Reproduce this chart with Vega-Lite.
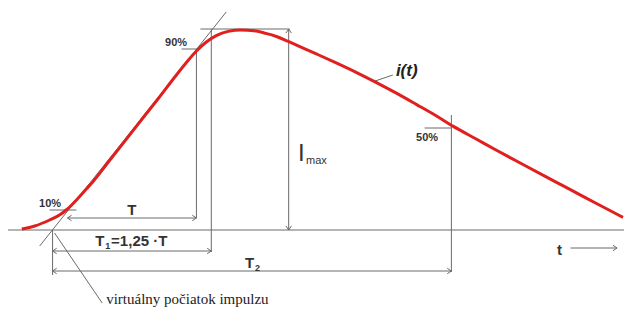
{
  "$schema": "https://vega.github.io/schema/vega-lite/v6.json",
  "autosize": {"type": "fit", "contains": "padding"},
  "width": 629,
  "height": 309,
  "padding": 0,
  "background": "white",
  "config": {"view": {"stroke": null}},
  "datasets": {
    "curve": [
      {"t": 22, "i": 0.5}, {"t": 35, "i": 2}, {"t": 50, "i": 5}, {"t": 60, "i": 7.5},
      {"t": 68, "i": 10.5}, {"t": 78, "i": 15.5}, {"t": 87, "i": 20.5}, {"t": 93, "i": 23.8},
      {"t": 110, "i": 34.5}, {"t": 127, "i": 45.2}, {"t": 145, "i": 56.6}, {"t": 160, "i": 66},
      {"t": 177, "i": 77}, {"t": 190, "i": 85}, {"t": 198, "i": 89.5}, {"t": 208, "i": 94},
      {"t": 218, "i": 97.2}, {"t": 230, "i": 99.3}, {"t": 243, "i": 100}, {"t": 256, "i": 99.6},
      {"t": 268, "i": 98.3}, {"t": 280, "i": 96.5}, {"t": 290, "i": 94.4}, {"t": 300, "i": 92.2},
      {"t": 320, "i": 87.8}, {"t": 340, "i": 83.3}, {"t": 360, "i": 78.6}, {"t": 380, "i": 73.6},
      {"t": 400, "i": 68.3}, {"t": 420, "i": 62.7}, {"t": 440, "i": 57}, {"t": 457, "i": 51.8},
      {"t": 480, "i": 45.5}, {"t": 500, "i": 40}, {"t": 530, "i": 32}, {"t": 560, "i": 24.1},
      {"t": 590, "i": 16.2}, {"t": 610, "i": 11}, {"t": 628, "i": 6.3}
    ],
    "guides": [
      {"seg": "base", "o": 1, "t": 8, "i": 0}, {"seg": "base", "o": 2, "t": 629, "i": 0},
      {"seg": "tangent", "o": 1, "t": 40, "i": -8}, {"seg": "tangent", "o": 2, "t": 228, "i": 109},
      {"seg": "v53", "o": 1, "t": 53, "i": 0}, {"seg": "v53", "o": 2, "t": 53, "i": -22.5},
      {"seg": "v198", "o": 1, "t": 198, "i": 90.5}, {"seg": "v198", "o": 2, "t": 198, "i": 6},
      {"seg": "v213", "o": 1, "t": 213, "i": 100.5}, {"seg": "v213", "o": 2, "t": 213, "i": -11},
      {"seg": "v455", "o": 1, "t": 455, "i": 57.5}, {"seg": "v455", "o": 2, "t": 455, "i": -21},
      {"seg": "imax", "o": 1, "t": 291, "i": 100.5}, {"seg": "imax", "o": 2, "t": 291, "i": 0},
      {"seg": "top", "o": 1, "t": 202, "i": 100.5}, {"seg": "top", "o": 2, "t": 292, "i": 100.5},
      {"seg": "T", "o": 1, "t": 68, "i": 6}, {"seg": "T", "o": 2, "t": 198, "i": 6},
      {"seg": "T1", "o": 1, "t": 53, "i": -10.5}, {"seg": "T1", "o": 2, "t": 213, "i": -10.5},
      {"seg": "T2", "o": 1, "t": 53, "i": -20.5}, {"seg": "T2", "o": 2, "t": 455, "i": -20.5},
      {"seg": "p10", "o": 1, "t": 50, "i": 10}, {"seg": "p10", "o": 2, "t": 77, "i": 10},
      {"seg": "p90", "o": 1, "t": 183, "i": 90.5}, {"seg": "p90", "o": 2, "t": 200, "i": 90.5},
      {"seg": "p50", "o": 1, "t": 428, "i": 51}, {"seg": "p50", "o": 2, "t": 455, "i": 51},
      {"seg": "lead1", "o": 1, "t": 55, "i": -1.5}, {"seg": "lead1", "o": 2, "t": 103, "i": -36.5},
      {"seg": "lead2", "o": 1, "t": 377, "i": 74.3}, {"seg": "lead2", "o": 2, "t": 396, "i": 77.5},
      {"seg": "tarrow", "o": 1, "t": 575, "i": -9}, {"seg": "tarrow", "o": 2, "t": 622, "i": -9}
    ],
    "heads": [
      {"dir": "left", "t": 68, "i": 6}, {"dir": "right", "t": 198, "i": 6},
      {"dir": "left", "t": 53, "i": -10.5}, {"dir": "right", "t": 213, "i": -10.5},
      {"dir": "left", "t": 53, "i": -20.5}, {"dir": "right", "t": 455, "i": -20.5},
      {"dir": "up", "t": 291, "i": 100.5}, {"dir": "down", "t": 291, "i": 0},
      {"dir": "right", "t": 622, "i": -9}
    ],
    "labels": [
      {"kind": "pct", "t": 50.5, "i": 13, "text": "10%"},
      {"kind": "pct", "t": 177.5, "i": 93.5, "text": "90%"},
      {"kind": "pct", "t": 430.5, "i": 46, "text": "50%"},
      {"kind": "dim", "t": 133, "i": 10, "text": "T"},
      {"kind": "dim", "t": 564, "i": -10, "text": "t"},
      {"kind": "dimL", "t": 96, "i": -5.5, "text": "T"},
      {"kind": "sub", "t": 106, "i": -8, "text": "1"},
      {"kind": "dimL", "t": 112, "i": -5.5, "text": "=1,25 ·T"},
      {"kind": "dimL", "t": 247, "i": -16.5, "text": "T"},
      {"kind": "sub", "t": 257, "i": -19.2, "text": "2"}
    ]
  },
  "encoding": {
    "x": {"field": "t", "type": "quantitative", "scale": {"domain": [0, 629], "nice": false, "zero": false}, "axis": null},
    "y": {"field": "i", "type": "quantitative", "scale": {"domain": [-39.5, 115], "nice": false, "zero": false}, "axis": null}
  },
  "layer": [
    {
      "data": {"name": "guides"},
      "mark": {"type": "line", "color": "#6a6a6a", "strokeWidth": 1},
      "encoding": {"detail": {"field": "seg"}, "order": {"field": "o", "type": "quantitative"}}
    },
    {
      "data": {"name": "heads"},
      "mark": {"type": "point", "filled": false, "color": "#6a6a6a", "strokeWidth": 1, "size": 30, "opacity": 1},
      "encoding": {
        "shape": {"field": "dir", "type": "nominal", "legend": null,
          "scale": {"domain": ["left", "right", "up", "down"],
            "range": ["M1.5,-1L0,0L1.5,1", "M-1.5,-1L0,0L-1.5,1", "M-1,1.5L0,0L1,1.5", "M-1,-1.5L0,0L1,-1.5"]}}
      }
    },
    {
      "data": {"name": "curve"},
      "mark": {"type": "line", "color": "#e0201e", "strokeWidth": 3, "interpolate": "monotone"},
      "encoding": {}
    },
    {
      "data": {"name": "labels"},
      "transform": [{"filter": "datum.kind === 'pct'"}],
      "mark": {"type": "text", "font": "Liberation Sans", "fontSize": 11, "fontWeight": "bold", "color": "#333", "baseline": "middle", "align": "center"},
      "encoding": {"text": {"field": "text"}}
    },
    {
      "data": {"name": "labels"},
      "transform": [{"filter": "datum.kind === 'dim'"}],
      "mark": {"type": "text", "font": "Liberation Sans", "fontSize": 15, "fontWeight": "bold", "color": "#333", "baseline": "middle", "align": "center"},
      "encoding": {"text": {"field": "text"}}
    },
    {
      "data": {"name": "labels"},
      "transform": [{"filter": "datum.kind === 'dimL'"}],
      "mark": {"type": "text", "font": "Liberation Sans", "fontSize": 15, "fontWeight": "bold", "color": "#333", "baseline": "middle", "align": "left"},
      "encoding": {"text": {"field": "text"}}
    },
    {
      "data": {"name": "labels"},
      "transform": [{"filter": "datum.kind === 'sub'"}],
      "mark": {"type": "text", "font": "Liberation Sans", "fontSize": 9, "fontWeight": "bold", "color": "#333", "baseline": "middle", "align": "left"},
      "encoding": {"text": {"field": "text"}}
    },
    {
      "data": {"values": [{"t": 300.5, "i": 38, "text": "I"}]},
      "mark": {"type": "text", "font": "Liberation Sans", "fontSize": 24, "color": "#333", "baseline": "middle", "align": "left"},
      "encoding": {"text": {"field": "text"}}
    },
    {
      "data": {"values": [{"t": 308.5, "i": 34.5, "text": "max"}]},
      "mark": {"type": "text", "font": "Liberation Sans", "fontSize": 11, "color": "#333", "baseline": "middle", "align": "left"},
      "encoding": {"text": {"field": "text"}}
    },
    {
      "data": {"values": [{"t": 410, "i": 79.5, "text": "i(t)"}]},
      "mark": {"type": "text", "font": "Liberation Sans", "fontSize": 17, "fontWeight": "bold", "fontStyle": "italic", "color": "#222", "baseline": "middle", "align": "center"},
      "encoding": {"text": {"field": "text"}}
    },
    {
      "data": {"values": [{"t": 107, "i": -34.5, "text": "virtuálny počiatok impulzu"}]},
      "mark": {"type": "text", "font": "Liberation Serif", "fontSize": 15, "color": "#222", "baseline": "middle", "align": "left"},
      "encoding": {"text": {"field": "text"}}
    }
  ]
}
